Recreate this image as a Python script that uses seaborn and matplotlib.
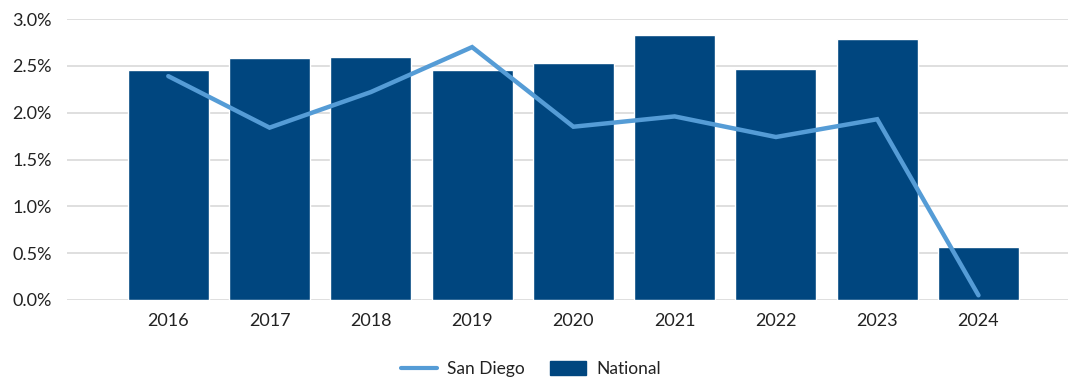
import matplotlib
matplotlib.use("Agg")
import matplotlib.pyplot as plt
from matplotlib.lines import Line2D
from matplotlib.patches import Patch
from matplotlib.ticker import FuncFormatter, MultipleLocator
import seaborn as sns
import pandas as pd

years = ["2016", "2017", "2018", "2019", "2020", "2021", "2022", "2023", "2024"]
national = [2.46, 2.58, 2.59, 2.455, 2.53, 2.83, 2.465, 2.79, 0.57]
san_diego = [2.39, 1.84, 2.22, 2.70, 1.85, 1.96, 1.74, 1.93, 0.05]

BAR_COLOR = "#00467F"
LINE_COLOR = "#559CD6"

df = pd.DataFrame({"year": years, "National": national, "San Diego": san_diego})

sns.set_theme(style="white")
plt.rcParams["font.family"] = ["Lato", "DejaVu Sans"]

fig = plt.figure(figsize=(10.68, 3.79), dpi=100)
ax = fig.add_axes([67 / 1068, 1 - 300 / 379, 1 - 67 / 1068, (300 - 19) / 379])

sns.barplot(data=df, x="year", y="National", color=BAR_COLOR, width=0.8,
            saturation=1, ax=ax, zorder=2)
sns.pointplot(data=df, x="year", y="San Diego", color=LINE_COLOR, markers="",
              ax=ax, zorder=3)
for ln in ax.lines:
    ln.set_linewidth(3.2)
    ln.set_solid_capstyle("round")
    ln.set_solid_joinstyle("miter")

ax.set_xlim(-1, (1068 - 168.5) / 101.25)
ax.set_ylim(0, 3.0)
ax.yaxis.set_major_locator(MultipleLocator(0.5))
ax.yaxis.set_major_formatter(FuncFormatter(lambda v, p: f"{v:.1f}%"))
ax.grid(axis="y", color="#d9d9d9", linewidth=1.2, zorder=0)
ax.set_axisbelow(True)
for s in ax.spines.values():
    s.set_visible(False)
ax.tick_params(axis="both", length=0, labelsize=13, colors="#222222")
ax.tick_params(axis="x", pad=9)
ax.tick_params(axis="y", pad=11)
ax.set_xlabel("")
ax.set_ylabel("")

handles = [Line2D([0], [0], color=LINE_COLOR, lw=3),
           Patch(facecolor=BAR_COLOR, edgecolor=BAR_COLOR)]
fig.legend(handles, ["San Diego", "National"], loc="center",
           bbox_to_anchor=(0.497, 0.026), ncol=2, frameon=False,
           fontsize=12.5, handlelength=2.1, handleheight=0.9, columnspacing=1.4,
           handletextpad=0.6, labelcolor="#222222")

fig.savefig("out.png", dpi=100)
